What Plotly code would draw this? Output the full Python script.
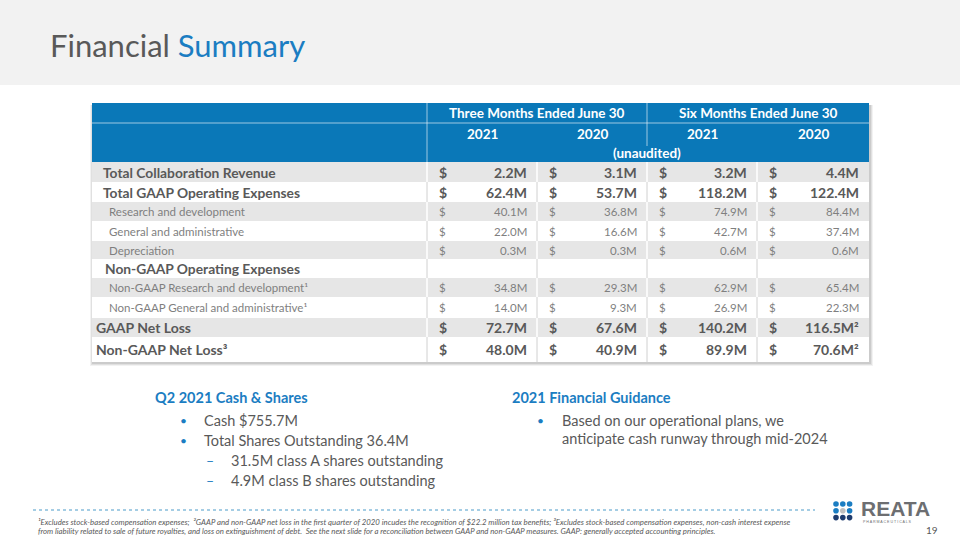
import plotly.graph_objects as go

# ---------------- data ----------------
row_labels = [
    "Total Collaboration Revenue",
    "Total GAAP Operating Expenses",
    "Research and development",
    "General and administrative",
    "Depreciation",
    "Non-GAAP Operating Expenses",
    "Non-GAAP Research and development¹",
    "Non-GAAP General and administrative¹",
    "GAAP Net Loss",
    "Non-GAAP Net Loss³",
]
row_kind = ["bold", "bold", "sub", "sub", "sub", "section", "sub", "sub", "net", "net"]
q2_2021 = [2.2, 62.4, 40.1, 22.0, 0.3, None, 34.8, 14.0, 72.7, 48.0]
q2_2020 = [3.1, 53.7, 36.8, 16.6, 0.3, None, 29.3, 9.3, 67.6, 40.9]
h1_2021 = [3.2, 118.2, 74.9, 42.7, 0.6, None, 62.9, 26.9, 140.2, 89.9]
h1_2020 = [4.4, 122.4, 84.4, 37.4, 0.6, None, 65.4, 22.3, 116.5, 70.6]
h1_2020_notes = ["", "", "", "", "", "", "", "", "²", "²"]
col_groups = ["Three Months Ended June 30", "Six Months Ended June 30"]
col_years = ["2021", "2020", "2021", "2020"]
header_note = "(unaudited)"

title_a = "Financial "
title_b = "Summary"
cash_title = "Q2 2021 Cash & Shares"
cash_bullets = ["Cash $755.7M", "Total Shares Outstanding 36.4M"]
cash_subs = ["31.5M class A shares outstanding", "4.9M class B shares outstanding"]
guid_title = "2021 Financial Guidance"
guid_lines = ["Based on our operational plans, we", "anticipate cash runway through mid-2024"]
footnotes = [
    "¹Excludes stock-based compensation expenses;  ²GAAP and non-GAAP net loss in the first quarter of 2020 incudes the recognition of $22.2 million tax benefits; ³Excludes stock-based compensation expenses, non-cash interest expense",
    "from liability related to sale of future royalties, and loss on extinguishment of debt.  See the next slide for a reconciliation between GAAP and non-GAAP measures. GAAP: generally accepted accounting principles.",
]
page_number = "19"

# ---------------- styling / geometry ----------------
FONT = "Lato, Carlito, 'Open Sans', sans-serif"
BLUE = "#0A78B8"
TITLE_BLUE = "#1B7DC2"
DARK = "#595959"
LIGHT = "#7F7F7F"
GRAYROW = "#E6E6E6"
LINE = "#D0D0D0"

TL, TR, TT = 92, 869, 103
HDR_MID, HDR_BOT = 123, 162
col_edges = [427, 537, 647, 757, 869]
row_edges = [162, 182, 202, 221, 241, 259, 278, 297, 318, 337, 362]

shapes = []
ann = []


def rect(x0, y0, x1, y1, fill, line_w=0, line_c=None, layer="below"):
    shapes.append(dict(type="rect", xref="x", yref="y", x0=x0, y0=y0, x1=x1, y1=y1,
                       fillcolor=fill, line=dict(width=line_w, color=line_c or fill), layer=layer))


def line(x0, y0, x1, y1, color, width=1, dash="solid", layer="below"):
    shapes.append(dict(type="line", xref="x", yref="y", x0=x0, y0=y0, x1=x1, y1=y1,
                       line=dict(color=color, width=width, dash=dash), layer=layer))


def text(x, y, s, size, color, xanchor="left", bold=False, italic=False, family=FONT, yanchor="middle"):
    ann.append(dict(x=x, y=y, xref="x", yref="y", text=s, showarrow=False,
                    xanchor=xanchor, yanchor=yanchor,
                    font=dict(family=family, size=size, color=color,
                              weight="bold" if bold else "normal",
                              style="italic" if italic else "normal")))


# top band
rect(0, 0, 960, 85, "#F2F2F2")
text(48, 45, title_a + f"<span style='color:{TITLE_BLUE}'>{title_b}</span>", 31, DARK)

# table shadow
for i, op in enumerate([0.05, 0.07, 0.09]):
    d = 3 - i
    rect(TL - d + 1, TT + 2, TR + d + 1, row_edges[-1] + d + 1, f"rgba(0,0,0,{op})")

# table body
rect(TL, TT, TR, row_edges[-1], "white")
rect(TL, TT, TR, HDR_BOT, BLUE)
line(TL, HDR_MID, TR, HDR_MID, "rgba(255,255,255,0.6)", 1)
line(col_edges[0], TT, col_edges[0], HDR_BOT, "rgba(255,255,255,0.6)", 1)
line(col_edges[2], TT, col_edges[2], 146, "rgba(255,255,255,0.6)", 1)

for r in range(len(row_labels)):
    y0, y1 = row_edges[r], row_edges[r + 1]
    gray = (r % 2 == 0)
    if gray:
        rect(TL, y0, TR, y1, GRAYROW)
    for xe in col_edges[:-1]:
        line(xe, y0, xe, y1, "white" if gray else LINE, 1.5 if gray else 1)

# header text
for g, label in enumerate(col_groups):
    cx = (col_edges[2 * g] + col_edges[2 * g + 2]) / 2
    text(cx, 113, label, 13.5, "white", "center", bold=True)
for c, yr in enumerate(col_years):
    cx = (col_edges[c] + col_edges[c + 1]) / 2
    text(cx, 134, yr, 13.5, "white", "center", bold=True)
text(col_edges[2], 153, header_note, 13.5, "white", "center", bold=True)

# rows
label_x = {"bold": 101, "sub": 107, "section": 103, "net": 94}
label_size = {"bold": 13.8, "sub": 11.5, "section": 13.8, "net": 14}
series = [q2_2021, q2_2020, h1_2021, h1_2020]
for r, lab in enumerate(row_labels):
    kind = row_kind[r]
    cy = (row_edges[r] + row_edges[r + 1]) / 2
    strong = kind != "sub"
    size = 14 if strong else 11.5
    color = DARK if strong else LIGHT
    text(label_x[kind], cy, lab, label_size[kind], color, bold=strong)
    for c, s in enumerate(series):
        v = s[r]
        if v is None:
            continue
        note = h1_2020_notes[r] if c == 3 else ""
        text(col_edges[c] + 10, cy, "$", size, color, bold=strong)
        text(col_edges[c + 1] - 8, cy, f"{v:.1f}M{note}", size, color, "right", bold=strong)

# lower text blocks
text(153, 397, cash_title, 14.5, TITLE_BLUE, bold=True)
for i, b in enumerate(cash_bullets):
    yy = 420 + 20 * i
    text(178, yy, "•", 12, TITLE_BLUE)
    text(202, yy, b, 14.5, DARK)
for i, b in enumerate(cash_subs):
    yy = 460 + 20 * i
    text(204, yy, "–", 14, TITLE_BLUE)
    text(229, yy, b, 14.5, DARK)

text(510, 397, guid_title, 14.5, TITLE_BLUE, bold=True)
text(535, 420, "•", 12, TITLE_BLUE)
for i, b in enumerate(guid_lines):
    text(560, 420 + 18.5 * i, b, 14.5, DARK)

# footer
line(33, 510, 815, 510, "#4A9BC9", 1, "dot")
for i, f in enumerate(footnotes):
    text(36, 522 + 9 * i, f, 7.8, "#595959", italic=True)

# logo
dot_colors = [["#1B7DC2", "#1B7DC2", "#1B7DC2"],
              ["#1B7DC2", "#BFBFBF", "#1B7DC2"],
              ["#1F3C6E", "#1F3C6E", "#1F3C6E"]]
for ri in range(3):
    for ci in range(3):
        cx = 836 + ci * 6.8
        cy = 504 + ri * 6.8
        shapes.append(dict(type="circle", xref="x", yref="y", x0=cx - 2.8, y0=cy - 2.8,
                           x1=cx + 2.8, y1=cy + 2.8, fillcolor=dot_colors[ri][ci],
                           line=dict(width=0), layer="above"))
text(859, 508.5, "REATA", 21, "#6D6E71", bold=True, family="'Liberation Sans', Arial, sans-serif")
text(861, 521.5, "P H A R M A C E U T I C A L S", 3.6, "#6D6E71", family="'Liberation Sans', sans-serif")
text(940, 530, page_number, 10, "#595959", "right")

fig = go.Figure()
fig.add_trace(go.Scatter(x=[], y=[], showlegend=False))
fig.update_layout(
    width=960, height=540,
    margin=dict(l=0, r=0, t=0, b=0),
    paper_bgcolor="white", plot_bgcolor="white",
    xaxis=dict(range=[0, 960], visible=False, fixedrange=True),
    yaxis=dict(range=[540, 0], visible=False, fixedrange=True),
    shapes=shapes, annotations=ann, showlegend=False,
)
fig.write_html(
    "out.html",
    config={"displayModeBar": False},
    post_script="document.body.style.margin='0';document.body.style.overflow='hidden';",
)
